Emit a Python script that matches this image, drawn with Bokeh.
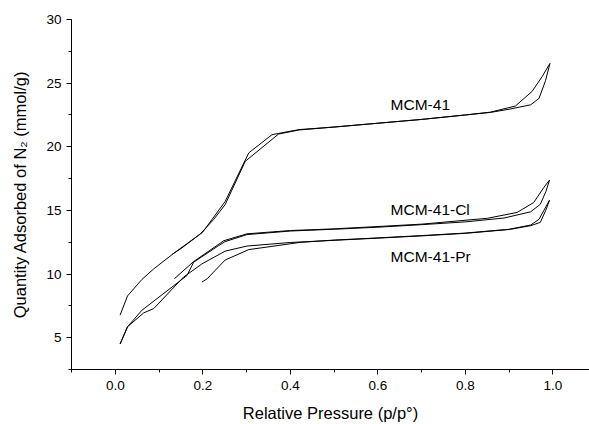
from bokeh.plotting import figure
from bokeh.models import Range1d, SingleIntervalTicker, NumeralTickFormatter, Label
from bokeh.embed import file_html
from bokeh.resources import INLINE

# MCM-41
mcm_ads_x = [0.011, 0.028, 0.061, 0.088, 0.137, 0.194, 0.225, 0.251, 0.297, 0.373, 0.42, 0.5, 0.6, 0.7, 0.8, 0.857, 0.9, 0.949, 0.968, 0.983, 0.993]
mcm_ads_y = [6.77, 8.28, 9.58, 10.41, 11.72, 13.14, 14.3, 15.45, 18.86, 21.0, 21.32, 21.55, 21.85, 22.15, 22.5, 22.7, 22.95, 23.3, 23.8, 25.2, 26.55]
mcm_des_x = [0.993, 0.975, 0.952, 0.914, 0.857, 0.8, 0.7, 0.6, 0.5, 0.42, 0.358, 0.305, 0.251, 0.2, 0.149, 0.13]
mcm_des_y = [26.55, 25.5, 24.34, 23.2, 22.72, 22.5, 22.15, 21.85, 21.55, 21.35, 20.95, 19.52, 15.7, 13.3, 11.97, 11.55]

# MCM-41-Cl
cl_ads_x = [0.011, 0.028, 0.061, 0.164, 0.179, 0.236, 0.251, 0.301, 0.4, 0.5, 0.6, 0.7, 0.8, 0.888, 0.949, 0.971, 0.984, 0.992]
cl_ads_y = [4.5, 5.86, 7.16, 9.89, 10.93, 12.23, 12.55, 13.1, 13.38, 13.52, 13.68, 13.88, 14.1, 14.4, 14.89, 15.48, 16.5, 17.38]
cl_des_x = [0.992, 0.979, 0.956, 0.918, 0.85, 0.7, 0.5, 0.4, 0.301, 0.248, 0.179, 0.135]
cl_des_y = [17.38, 16.8, 15.62, 14.84, 14.38, 13.92, 13.55, 13.42, 13.16, 12.62, 10.98, 9.63]

# MCM-41-Pr
pr_ads_x = [0.011, 0.028, 0.065, 0.088, 0.156, 0.198, 0.251, 0.301, 0.4, 0.5, 0.6, 0.7, 0.8, 0.9, 0.949, 0.971, 0.983, 0.992]
pr_ads_y = [4.5, 5.86, 6.95, 7.29, 9.76, 10.8, 11.8, 12.2, 12.48, 12.65, 12.82, 13.0, 13.2, 13.5, 13.8, 14.06, 14.97, 15.8]
pr_des_x = [0.992, 0.968, 0.949, 0.9, 0.8, 0.7, 0.6, 0.5, 0.423, 0.305, 0.251, 0.21, 0.198]
pr_des_y = [15.8, 14.3, 13.85, 13.52, 13.22, 13.02, 12.84, 12.67, 12.49, 11.92, 11.1, 9.63, 9.37]

labels = ["MCM-41", "MCM-41-Cl", "MCM-41-Pr"]
label_x = [0.629, 0.629, 0.629]
label_y = [23.3, 15.1, 11.4]

FONT = "Liberation Sans"

p = figure(width=589, height=424, output_backend="svg", toolbar_location=None,
           x_range=Range1d(-0.1, 1.0834), y_range=Range1d(2.5, 30),
           min_border_left=71, min_border_right=0, min_border_top=19, min_border_bottom=52)

p.xgrid.visible = False
p.ygrid.visible = False
p.outline_line_color = None
p.background_fill_color = "white"
p.border_fill_color = "white"

for ax in (p.xaxis[0], p.yaxis[0]):
    ax.axis_line_color = "black"
    ax.axis_line_width = 1
    ax.major_tick_line_color = "black"
    ax.minor_tick_line_color = "black"
    ax.major_tick_in = 0
    ax.major_tick_out = 5
    ax.minor_tick_in = 0
    ax.minor_tick_out = 3
    ax.major_label_text_font = FONT
    ax.major_label_text_font_size = "13.5px"
    ax.major_label_text_color = "black"
    ax.axis_label_text_font = FONT
    ax.axis_label_text_font_size = "16.5px"
    ax.axis_label_text_font_style = "normal"
    ax.axis_label_text_color = "black"

p.xaxis[0].ticker = SingleIntervalTicker(interval=0.2, num_minor_ticks=2)
p.xaxis[0].formatter = NumeralTickFormatter(format="0.0")
p.xaxis[0].axis_label = "Relative Pressure (p/p°)"
p.xaxis[0].major_label_standoff = 6
p.xaxis[0].axis_label_standoff = 11

p.yaxis[0].ticker = SingleIntervalTicker(interval=5, num_minor_ticks=2)
p.yaxis[0].formatter = NumeralTickFormatter(format="0")
p.yaxis[0].axis_label = "Quantity Adsorbed of N₂ (mmol/g)"
p.yaxis[0].major_label_standoff = 5
p.yaxis[0].axis_label_standoff = 14

for xs, ys in [(mcm_ads_x, mcm_ads_y), (mcm_des_x, mcm_des_y),
               (cl_ads_x, cl_ads_y), (cl_des_x, cl_des_y),
               (pr_ads_x, pr_ads_y), (pr_des_x, pr_des_y)]:
    p.line(xs, ys, line_color="black", line_width=1)

for t, lx, ly in zip(labels, label_x, label_y):
    p.add_layout(Label(x=lx, y=ly, text=t, text_baseline="middle", text_align="left",
                       text_font=FONT, text_font_size="15.5px", text_color="black"))

open("out.html", "w").write(file_html(p, INLINE))
